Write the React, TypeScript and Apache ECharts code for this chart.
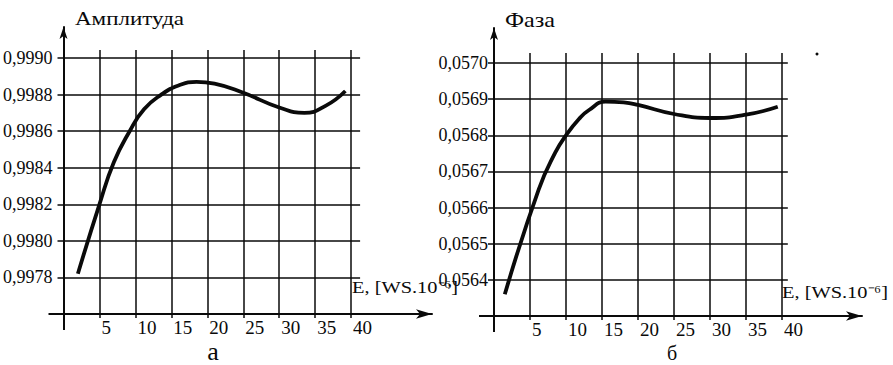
import React, { useEffect, useRef } from "react";
import * as echarts from "echarts";

// ---- data ----
const xTicks = [5, 10, 15, 20, 25, 30, 35, 40];
const ampTicks = [0.9978, 0.998, 0.9982, 0.9984, 0.9986, 0.9988, 0.999];
const phaseTicks = [0.0564, 0.0565, 0.0566, 0.0567, 0.0568, 0.0569, 0.057];

const ampE = [2, 5, 7, 9.2, 11.2, 13.6, 16, 18.5, 21, 25, 30, 33.5, 36.5, 39.2];
const ampValues = [0.99782, 0.9982, 0.99843, 0.9986, 0.99872, 0.9988, 0.99885, 0.99887, 0.99886, 0.99881, 0.99873, 0.9987, 0.99874, 0.99882];

const phaseE = [1.5, 6.2, 8.5, 10, 11.8, 13.2, 15.5, 18, 20, 25, 30, 35, 39.4];
const phaseValues = [0.05636, 0.05665, 0.056752, 0.0568, 0.056845, 0.05687, 0.056893, 0.056891, 0.056884, 0.056859, 0.056848, 0.056857, 0.056879];

// ---- axis extents ----
const L = { xMax: 51.25, yMin: 0.9976, yMax: 0.99917, hEnd: 41.25, vTop: 0.999044 };
const R = { xMax: 51.1, yMin: 0.0563, yMax: 0.057097, hEnd: 40.8, vTop: 0.057028 };

const INK = "#0a0a0a";
const SERIF = "'Liberation Serif', 'Times New Roman', serif";

function fmt(v: number) {
  return v.toFixed(4).replace(".", ",");
}

function gridLines(yTicks: number[], ext: typeof L) {
  return [
    ...yTicks.map((v) => [{ coord: [0, v] }, { coord: [ext.hEnd, v] }]),
    ...xTicks.map((x) => [{ coord: [x, ext.yMin] }, { coord: [x, ext.vTop] }]),
  ];
}

function xAxes(gi: number, ext: typeof L) {
  return [
    {
      gridIndex: gi,
      type: "value",
      position: "bottom",
      min: 0,
      max: ext.xMax,
      splitLine: { show: false },
      axisLine: {
        show: true,
        lineStyle: { color: INK, width: 2 },
        symbol: ["none", "arrow"],
        symbolSize: [7, 16],
      },
      axisTick: { show: true, customValues: xTicks, length: 4, lineStyle: { color: INK, width: 1.5 } },
      axisLabel: {
        customValues: xTicks,
        align: "left",
        margin: 4,
        padding: [0, 0, 0, 2],
        fontSize: 19,
        fontFamily: SERIF,
        color: INK,
        formatter: (v: number) => String(v),
      },
    },
    {
      gridIndex: gi,
      type: "value",
      position: "bottom",
      min: 0,
      max: ext.xMax,
      splitLine: { show: false },
      axisLine: { show: false },
      axisLabel: { show: false },
      axisTick: { show: true, customValues: [0], length: 16, lineStyle: { color: INK, width: 2 } },
    },
  ];
}

function yAxes(gi: number, ext: typeof L, ticks: number[], margin: number) {
  return [
    {
      gridIndex: gi,
      type: "value",
      position: "left",
      min: ext.yMin,
      max: ext.yMax,
      splitLine: { show: false },
      axisLine: {
        show: true,
        lineStyle: { color: INK, width: 2 },
        symbol: ["none", "arrow"],
        symbolSize: [6, 12],
      },
      axisTick: { show: true, customValues: ticks, length: 6, lineStyle: { color: INK, width: 1.5 } },
      axisLabel: {
        customValues: ticks,
        margin,
        fontSize: 18,
        fontFamily: SERIF,
        color: INK,
        formatter: (v: number) => fmt(v),
      },
    },
    {
      gridIndex: gi,
      type: "value",
      position: "left",
      min: ext.yMin,
      max: ext.yMax,
      splitLine: { show: false },
      axisLine: { show: false },
      axisLabel: { show: false },
      axisTick: { show: true, customValues: [ext.yMin], length: 15, lineStyle: { color: INK, width: 2 } },
    },
  ];
}

function unitText(x: number, y: number) {
  return {
    type: "text",
    x,
    y,
    scaleX: 1.2,
    style: {
      text: "E, [WS.10⁻⁶]",
      fontSize: 17,
      fontFamily: SERIF,
      fill: INK,
      verticalAlign: "middle",
    },
  };
}

function gridSeries(xi: number, ticks: number[], ext: typeof L) {
  return {
    type: "line",
    xAxisIndex: xi,
    yAxisIndex: xi,
    data: [],
    z: 1,
    markLine: {
      silent: true,
      symbol: "none",
      label: { show: false },
      lineStyle: { color: INK, width: 1.5, type: "solid" },
      data: gridLines(ticks, ext),
    },
  };
}

export default function App() {
  const ref = useRef<HTMLDivElement>(null);
  useEffect(() => {
    if (!ref.current) return;
    const chart = echarts.init(ref.current, null, { renderer: "svg" });
    const option: any = {
      animation: false,
      backgroundColor: "#fff",
      grid: [
        { left: 63, top: 27, width: 369, height: 287 },
        { left: 494, top: 28, width: 368, height: 288 },
      ],
      xAxis: [...xAxes(0, L), ...xAxes(1, R)],
      yAxis: [...yAxes(0, L, ampTicks, 11), ...yAxes(1, R, phaseTicks, 6)],
      series: [
        gridSeries(0, ampTicks, L),
        gridSeries(2, phaseTicks, R),
        {
          name: "Амплитуда",
          type: "line",
          xAxisIndex: 0,
          yAxisIndex: 0,
          z: 10,
          smooth: 0.5,
          showSymbol: false,
          lineStyle: { color: INK, width: 3.8 },
          data: ampE.map((e, i) => [e, ampValues[i]]),
        },
        {
          name: "Фаза",
          type: "line",
          xAxisIndex: 2,
          yAxisIndex: 2,
          z: 10,
          smooth: 0.5,
          showSymbol: false,
          lineStyle: { color: INK, width: 3.8 },
          data: phaseE.map((e, i) => [e, phaseValues[i]]),
        },
      ],
      graphic: [
        {
          type: "text",
          x: 75,
          y: 19,
          scaleX: 1.28,
          style: { text: "Амплитуда", fontSize: 18, fontFamily: SERIF, fill: INK, verticalAlign: "middle" },
        },
        {
          type: "text",
          x: 505,
          y: 20,
          scaleX: 1.15,
          style: { text: "Фаза", fontSize: 21, fontFamily: SERIF, fill: INK, verticalAlign: "middle" },
        },
        unitText(352, 287),
        unitText(782, 292),
        {
          type: "text",
          x: 213,
          y: 351,
          style: { text: "а", fontSize: 26, fontFamily: SERIF, fill: INK, align: "center", verticalAlign: "middle" },
        },
        {
          type: "text",
          x: 672,
          y: 353,
          style: { text: "б", fontSize: 20, fontFamily: SERIF, fill: INK, align: "center", verticalAlign: "middle" },
        },
        { type: "circle", shape: { cx: 817, cy: 54, r: 1.5 }, style: { fill: INK } },
      ],
    };
    chart.setOption(option);
    return () => chart.dispose();
  }, []);
  return (
    <div
      ref={ref}
      style={{ position: "absolute", left: 0, top: 0, width: 893, height: 365, background: "#fff" }}
    />
  );
}
